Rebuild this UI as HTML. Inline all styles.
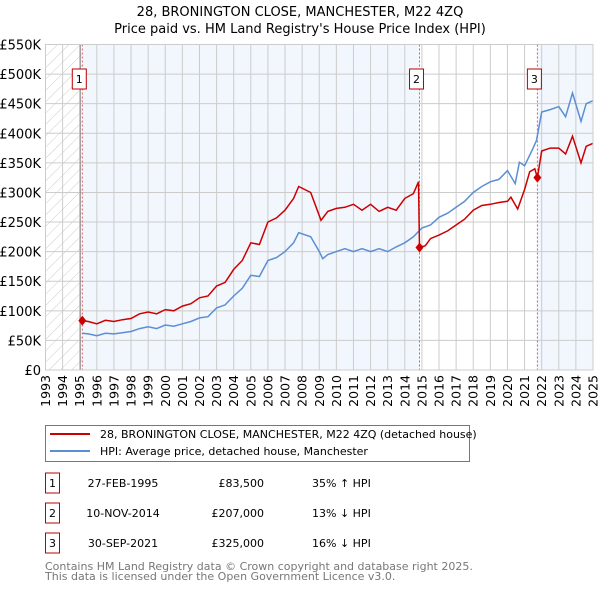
<!DOCTYPE html>
<html><head><meta charset="utf-8"><style>
body{margin:0;background:#fff;font-family:"Liberation Sans","DejaVu Sans",sans-serif;}
svg text{font-family:"DejaVu Sans","Liberation Sans",sans-serif;}
</style></head><body>
<svg id="chart" width="600" height="590" xmlns="http://www.w3.org/2000/svg">
<defs><pattern id="hatch" width="8" height="8" patternUnits="userSpaceOnUse" patternTransform="rotate(45)"><line x1="0" y1="0" x2="0" y2="8" stroke="#ccc" stroke-width="1"/></pattern></defs>
<text x="300" y="16" text-anchor="middle" font-size="13">28, BRONINGTON CLOSE, MANCHESTER, M22 4ZQ</text>
<text x="300" y="33" text-anchor="middle" font-size="13">Price paid vs. HM Land Registry's House Price Index (HPI)</text>
<g id="plot"></g>
<g>
<rect x="45.5" y="425.5" width="424" height="36" fill="#fff" stroke="#777"/>
<line x1="50" y1="434" x2="90" y2="434" stroke="#cc0000" stroke-width="2"/>
<text x="100" y="438" font-size="11">28, BRONINGTON CLOSE, MANCHESTER, M22 4ZQ (detached house)</text>
<line x1="50" y1="451" x2="90" y2="451" stroke="#5b8fd4" stroke-width="2"/>
<text x="100" y="455" font-size="11">HPI: Average price, detached house, Manchester</text>
</g>
<g id="table" font-size="11"></g>
<text x="45" y="570" font-size="11" fill="#777">Contains HM Land Registry data © Crown copyright and database right 2025.</text>
<text x="45" y="580" font-size="11" fill="#777">This data is licensed under the Open Government Licence v3.0.</text>
</svg>
<script>
const hpiYears=[1995.15,1995.5,1996,1996.5,1997,1997.5,1998,1998.5,1999,1999.5,2000,2000.5,2001,2001.5,2002,2002.5,2003,2003.5,2004,2004.5,2005,2005.5,2006,2006.5,2007,2007.5,2007.8,2008.5,2009,2009.2,2009.5,2010,2010.5,2011,2011.5,2012,2012.5,2013,2013.5,2014,2014.5,2015,2015.5,2016,2016.5,2017,2017.5,2018,2018.5,2019,2019.5,2020,2020.45,2020.7,2021,2021.5,2021.7,2022,2022.5,2023,2023.4,2023.8,2024.3,2024.6,2025];
const hpiValues=[62,61,58,62,61,63,65,70,73,70,76,74,78,82,88,90,105,110,125,138,160,158,185,190,200,215,232,225,200,188,195,200,205,200,205,200,205,200,208,215,225,240,245,258,265,275,285,300,310,318,322,337,315,351,345,375,388,436,440,445,428,468,420,450,455];
const priceYears=[1995.15,1995.5,1996,1996.5,1997,1997.5,1998,1998.5,1999,1999.5,2000,2000.5,2001,2001.5,2002,2002.5,2003,2003.5,2004,2004.5,2005,2005.5,2006,2006.5,2007,2007.5,2007.8,2008.5,2009.1,2009.5,2010,2010.5,2011,2011.5,2012,2012.5,2013,2013.5,2014,2014.5,2014.8,2014.86,2015.2,2015.5,2016,2016.5,2017,2017.5,2018,2018.5,2019,2019.5,2020,2020.2,2020.6,2021,2021.3,2021.6,2021.75,2022,2022.5,2023,2023.4,2023.8,2024.3,2024.6,2025];
const priceValues=[83.5,82,78,84,82,85,87,95,98,95,102,100,108,112,122,125,142,148,170,185,215,212,250,257,270,290,310,300,253,268,273,275,280,270,280,268,275,270,290,298,318,207,210,222,228,235,245,255,270,278,280,283,285,292,272,305,335,340,325,370,375,375,365,395,350,378,383];
const yTicks=[0,50,100,150,200,250,300,350,400,450,500,550];
const yTickLabels=["£0","£50K","£100K","£150K","£200K","£250K","£300K","£350K","£400K","£450K","£500K","£550K"];
const xTicks=[1993,1994,1995,1996,1997,1998,1999,2000,2001,2002,2003,2004,2005,2006,2007,2008,2009,2010,2011,2012,2013,2014,2015,2016,2017,2018,2019,2020,2021,2022,2023,2024,2025];
const saleYears=[1995.15,2014.86,2021.75];
const saleValues=[83.5,207,325];
const saleLabels=["1","2","3"];
const saleDates=["27-FEB-1995","10-NOV-2014","30-SEP-2021"];
const salePrices=["£83,500","£207,000","£325,000"];
const saleHpi=["35% ↑ HPI","13% ↓ HPI","16% ↓ HPI"];

const L=45.5,R=593,T=44.5,B=370;
const X=y=>L+(y-1993)/(2025-1993)*(R-L);
const Y=v=>B-v/550*(B-T);
const NS="http://www.w3.org/2000/svg";
const plot=document.getElementById('plot');
function mk(tag,attrs,parent){const e=document.createElementNS(NS,tag);for(const k in attrs)e.setAttribute(k,attrs[k]);(parent||plot).appendChild(e);return e;}
let e;
e=mk('rect',{x:X(1993),y:T,width:X(saleYears[0])-X(1993),height:B-T,fill:'url(#hatch)'});


e=mk('rect',{x:X(saleYears[0]),y:T,width:X(saleYears[1])-X(saleYears[0]),height:B-T,fill:'#f2f6fd'});


e=mk('rect',{x:X(saleYears[2]),y:T,width:X(2025)-X(saleYears[2]),height:B-T,fill:'#f2f6fd'});


yTicks.forEach((v,i)=>{
 e=mk('line',{x1:L,x2:R,y1:Y(v),y2:Y(v),stroke:'#ccc'});
 
 
 e=mk('text',{x:41,y:Y(v)+5,'text-anchor':'end','font-size':13});
 e.textContent=yTickLabels[i];
 
 
});
xTicks.forEach(yr=>{
 e=mk('line',{x1:X(yr),x2:X(yr),y1:T,y2:B,stroke:'#ccc'});
 
 
 e=mk('text',{x:0,y:0,'text-anchor':'end','font-size':12.5,transform:`translate(${X(yr)+4.5},375) rotate(-90)`});
 e.textContent=yr;
 
 
});
e=mk('line',{x1:X(saleYears[0])-2,x2:X(saleYears[0])-2,y1:T,y2:B,stroke:'#888'});


saleYears.forEach((s,i)=>{
 e=mk('line',{x1:X(s),x2:X(s),y1:T,y2:B,stroke:'#e55','stroke-dasharray':'2,2','stroke-width':1});
 
 
});
const path=(xs,vs)=>xs.map((x,i)=>(i?'L':'M')+X(x).toFixed(1)+','+Y(vs[i]).toFixed(1)).join('');
e=mk('path',{d:path(hpiYears,hpiValues),fill:'none',stroke:'#5b8fd4','stroke-width':1.5});


e=mk('path',{d:path(priceYears,priceValues),fill:'none',stroke:'#cc0000','stroke-width':1.5});


saleYears.forEach((s,i)=>{
 const cx=X(s),cy=Y(saleValues[i]);
 e=mk('path',{d:`M${cx-4},${cy}L${cx},${cy-5}L${cx+4},${cy}L${cx},${cy+5}Z`,fill:'#cc0000'});
 
 
 e=mk('rect',{x:cx-10,y:69,width:14,height:20,fill:'#fff',stroke:'#b00'});
 
 
 e=mk('text',{x:cx-3,y:83,'text-anchor':'middle','font-size':11});
 e.textContent=saleLabels[i];
 
 
});
e=mk('rect',{x:L,y:T,width:R-L,height:B-T,fill:'none',stroke:'#ccc'});


const tb=document.getElementById('table');
saleLabels.forEach((lab,i)=>{
 const cy=483+i*30;
 e=mk('rect',{x:45.5,y:cy-10,width:14,height:20,fill:'#fff',stroke:'#b00'},tb);
 
 
 e=mk('text',{x:52.5,y:cy+4,'text-anchor':'middle'},tb);e.textContent=lab;
 
 
 e=mk('text',{x:123,y:cy+4,'text-anchor':'middle'},tb);e.textContent=saleDates[i];
 
 
 e=mk('text',{x:264,y:cy+4,'text-anchor':'end'},tb);e.textContent=salePrices[i];
 
 
 e=mk('text',{x:312,y:cy+4},tb);e.textContent=saleHpi[i];
 
 
});
</script>
</body></html>
